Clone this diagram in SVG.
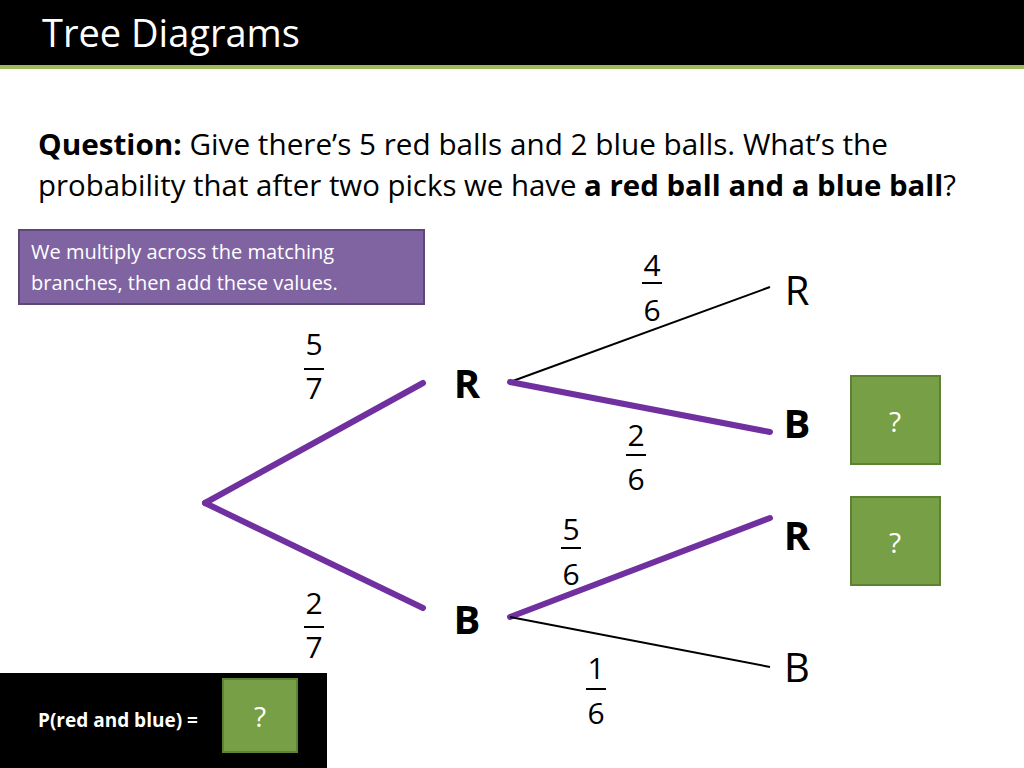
<svg xmlns="http://www.w3.org/2000/svg" width="1024" height="768" viewBox="0 0 1024 768">
<style>
text{font-family:"Open Sans","Liberation Sans",sans-serif}
.fr{font-size:30px;fill:#000;text-anchor:middle}
.bar{stroke:#000;stroke-width:2}
.p{stroke:#7030A0;stroke-width:6;stroke-linecap:round;fill:none}
.k{stroke:#000;stroke-width:2;fill:none}
.lab{font-size:40px;text-anchor:middle}
.g{fill:#77A046;stroke:#5E8234;stroke-width:2}
.q{fill:#fff;font-size:28px;text-anchor:middle}
</style>
<rect width="1024" height="768" fill="#fff"/>
<g id="header"><rect x="0" y="0" width="1024" height="65" fill="#000"/><rect x="0" y="65" width="1024" height="4" fill="#9BBB59"/>
<text x="42" y="47" font-size="38" fill="#fff">Tree Diagrams</text></g>
<g id="question" font-size="29">
<text x="38" y="155" textLength="850" lengthAdjust="spacingAndGlyphs"><tspan font-weight="bold">Question:</tspan> Give there’s 5 red balls and 2 blue balls. What’s the</text>
<text x="38" y="196" textLength="918" lengthAdjust="spacingAndGlyphs">probability that after two picks we have <tspan font-weight="bold">a red ball and a blue ball</tspan>?</text></g>
<g id="note"><rect x="19" y="230" width="405" height="74" fill="#8064A2" stroke="#5C4776" stroke-width="2"/>
<text x="31" y="259" font-size="20" fill="#fff">We multiply across the matching</text>
<text x="31" y="290" font-size="20" fill="#fff">branches, then add these values.</text></g>
<g id="connectors">
<line class="p" x1="205" y1="503" x2="423" y2="383"/>
<line class="p" x1="205" y1="503" x2="423" y2="608"/>
<line class="k" x1="510" y1="382" x2="770" y2="287"/>
<line class="p" x1="510" y1="382" x2="770" y2="432"/>
<line class="p" x1="510" y1="617" x2="770" y2="518"/>
<line class="k" x1="510" y1="617" x2="770" y2="667"/>
</g>
<g id="fractions">
<text class="fr" x="314" y="355">5</text><line class="bar" x1="304" y1="369" x2="324" y2="369"/><text class="fr" x="314" y="399">7</text>
<text class="fr" x="314" y="614">2</text><line class="bar" x1="304" y1="627" x2="324" y2="627"/><text class="fr" x="314" y="658">7</text>
<text class="fr" x="652" y="276">4</text><line class="bar" x1="642" y1="283" x2="662" y2="283"/><text class="fr" x="652" y="321">6</text>
<text class="fr" x="636" y="446">2</text><line class="bar" x1="626" y1="455" x2="646" y2="455"/><text class="fr" x="636" y="490">6</text>
<text class="fr" x="571" y="540">5</text><line class="bar" x1="561" y1="548" x2="581" y2="548"/><text class="fr" x="571" y="585">6</text>
<text class="fr" x="596" y="679">1</text><line class="bar" x1="586" y1="689" x2="606" y2="689"/><text class="fr" x="596" y="724">6</text>
</g>
<g id="nodeR1"><text class="lab" x="467" y="398" font-weight="bold">R</text></g>
<g id="nodeB1"><text class="lab" x="467" y="634" font-weight="bold">B</text></g>
<g id="nodeRR"><text class="lab" x="797" y="305">R</text></g>
<g id="nodeRB"><text class="lab" x="797" y="438" font-weight="bold">B</text></g>
<g id="nodeBR"><text class="lab" x="797" y="550" font-weight="bold">R</text></g>
<g id="nodeBB"><text class="lab" x="797" y="682">B</text></g>
<g id="q1"><rect class="g" x="851" y="376" width="89" height="88"/><text class="q" x="895" y="432">?</text></g>
<g id="q2"><rect class="g" x="851" y="497" width="89" height="88"/><text class="q" x="895" y="553">?</text></g>
<g id="answer"><rect x="0" y="673" width="327" height="95" fill="#000"/>
<text x="38" y="727" font-size="19" font-weight="bold" fill="#fff">P(red and blue) =</text>
<rect class="g" x="223" y="679" width="74" height="73"/><text class="q" x="260" y="727">?</text></g>
</svg>
